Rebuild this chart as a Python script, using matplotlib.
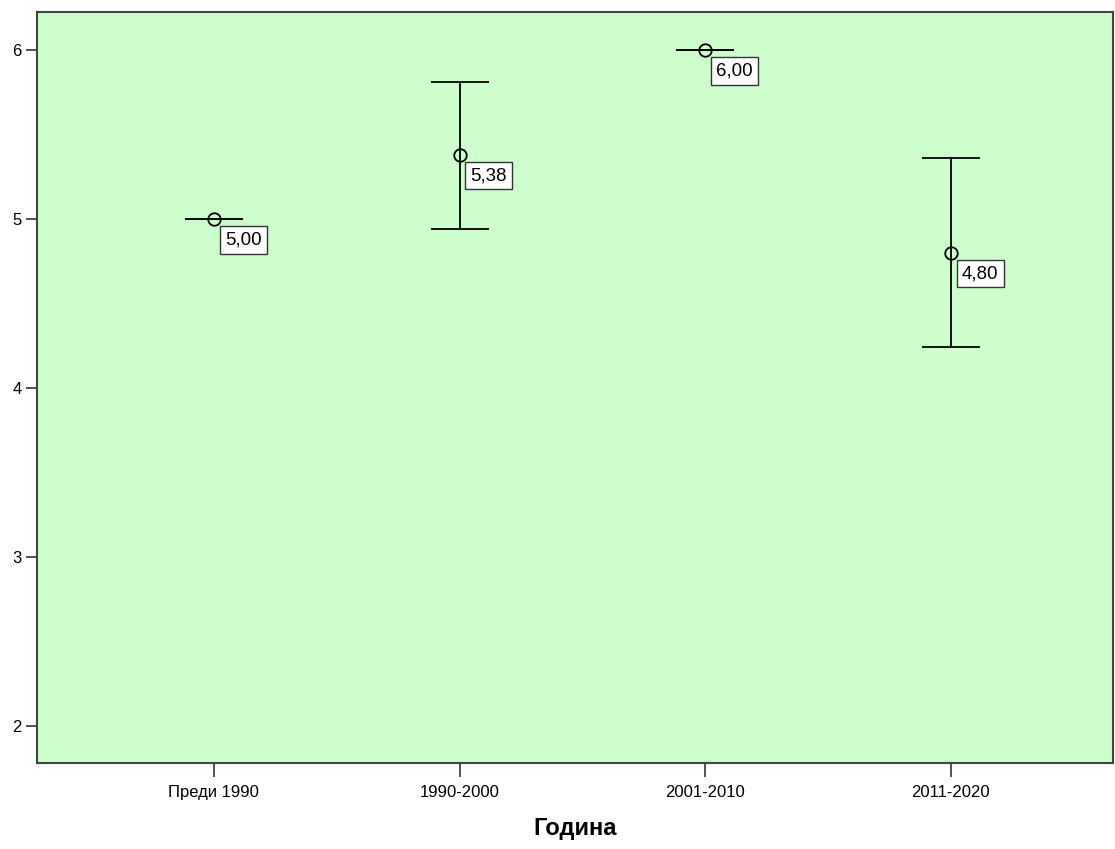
import matplotlib.pyplot as plt

# data
categories = ["Преди 1990", "1990-2000", "2001-2010", "2011-2020"]
means = [5.00, 5.38, 6.00, 4.80]
lower = [5.00, 4.94, 6.00, 4.24]
upper = [5.00, 5.81, 6.00, 5.36]
labels = ["5,00", "5,38", "6,00", "4,80"]

x = list(range(1, len(categories) + 1))
err_lo = [m - l for m, l in zip(means, lower)]
err_hi = [u - m for m, u in zip(means, upper)]

fig = plt.figure(figsize=(11.15, 8.49), dpi=100)
ax = fig.add_axes([0.0332, 0.1013, 0.965, 0.8846])
ax.set_facecolor("#ccffcc")

ax.errorbar(x, means, yerr=[err_lo, err_hi], fmt="o", color="black",
            markerfacecolor="none", markeredgecolor="black", markersize=9,
            markeredgewidth=1.3, elinewidth=1.3, capsize=21, capthick=1.3)

for xi, m, lab in zip(x, means, labels):
    ax.annotate(lab, (xi, m), xytext=(8, -9), textcoords="offset points",
                ha="left", va="top", fontsize=13.5,
                family=["Liberation Sans", "DejaVu Sans"],
                bbox=dict(boxstyle="square,pad=0.28", facecolor="white",
                          edgecolor="#333333", linewidth=1))

ax.set_xlim(0.28, 4.66)
ax.set_ylim(1.78, 6.225)
ax.set_xticks(x)
ax.set_xticklabels(categories, family=["Liberation Sans", "DejaVu Sans"],
                   fontsize=12)
ax.set_yticks([2, 3, 4, 5, 6])
ax.set_yticklabels(["2", "3", "4", "5", "6"], family=["Liberation Sans", "DejaVu Sans"],
                   fontsize=12)
ax.tick_params(axis="y", length=8, width=1.2, color="#333333", pad=3)
ax.tick_params(axis="x", length=10, width=1.2, color="#333333", pad=6)
ax.set_xlabel("Година", fontsize=17, fontweight="bold",
              family=["Liberation Sans", "DejaVu Sans"], labelpad=12)

for side in ax.spines.values():
    side.set_color("#444444")
    side.set_linewidth(1.5)

plt.savefig("out.png", dpi=100)
